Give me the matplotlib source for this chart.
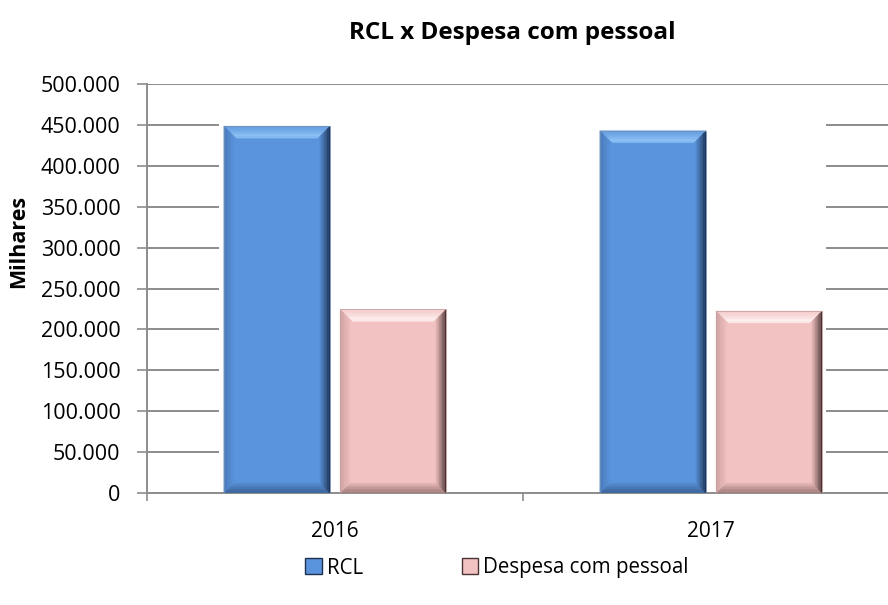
import matplotlib
matplotlib.use("Agg")
import matplotlib.pyplot as plt
import numpy as np
from matplotlib.patches import Polygon, Patch
from matplotlib.colors import to_rgb

categories = ["2016", "2017"]
series_names = ["RCL", "Despesa com pessoal"]
rcl = [448500, 442800]
despesa = [224500, 222500]
yticks = [0, 50000, 100000, 150000, 200000, 250000, 300000, 350000, 400000, 450000, 500000]
ytick_labels = ["0", "50.000", "100.000", "150.000", "200.000", "250.000",
                "300.000", "350.000", "400.000", "450.000", "500.000"]

FONT = ["Open Sans", "DejaVu Sans"]
plt.rcParams["font.family"] = FONT

W, H = 888, 605
fig = plt.figure(figsize=(W / 100, H / 100), dpi=100)
ax_left, ax_right, ax_bottom, ax_top = 147, 899, 493, 84
ax = fig.add_axes([ax_left / W, 1 - ax_bottom / H, (ax_right - ax_left) / W, (ax_bottom - ax_top) / H])

x = np.arange(len(categories))
bw = 0.282
gap = 0.027
off = (bw + gap) / 2

styles = [
    dict(main="#5A94DC", top="#8FC3F6", bottom="#3E679C", left="#4A7CBC", right="#1E3150", edge="#6F90B8"),
    dict(main="#F2C1C1", top="#FFF0F0", bottom="#A68080", left="#CFA3A3", right="#4A3535", edge="#C9A2A2"),
]

ax.set_xlim(-0.5, 1.5)
ax.set_ylim(0, 500000)

bars_rcl = ax.bar(x - off, rcl, bw, color=styles[0]["main"], zorder=3, linewidth=0)
bars_desp = ax.bar(x + off, despesa, bw, color=styles[1]["main"], zorder=3, linewidth=0)

dx = 12 / 376
dy = 12 * 500000 / 409


def mix(c1, c2, t):
    a = np.array(to_rgb(c1)); b = np.array(to_rgb(c2))
    return tuple(a * (1 - t) + b * t)


def bevel(bar, st):
    x0 = bar.get_x(); x1 = x0 + bar.get_width()
    y0 = bar.get_y(); y1 = y0 + bar.get_height()
    n = 8
    for i in range(n):
        a = i / n; b = (i + 1) / n
        t = i / (n - 1)
        ctop = mix(st["main"], st["top"], min(1.0, 0.3 + 0.9 * t ** 1.5))
        if i == n - 1:
            ctop = mix(st["top"], st["main"], 0.2)
        sides = {
            "top": ([(x0 + a * dx, y1 - a * dy), (x1 - a * dx, y1 - a * dy), (x1 - b * dx, y1 - b * dy), (x0 + b * dx, y1 - b * dy)], ctop),
            "bottom": ([(x0 + a * dx, y0 + a * dy), (x1 - a * dx, y0 + a * dy), (x1 - b * dx, y0 + b * dy), (x0 + b * dx, y0 + b * dy)], mix(st["bottom"], st["main"], t ** 1.2)),
            "left": ([(x0 + a * dx, y0 + a * dy), (x0 + a * dx, y1 - a * dy), (x0 + b * dx, y1 - b * dy), (x0 + b * dx, y0 + b * dy)], mix(st["left"], st["main"], t)),
            "right": ([(x1 - a * dx, y0 + a * dy), (x1 - a * dx, y1 - a * dy), (x1 - b * dx, y1 - b * dy), (x1 - b * dx, y0 + b * dy)], mix(st["right"], st["main"], t ** 0.8)),
        }
        for k, (pts, c) in sides.items():
            ax.add_patch(Polygon(pts, closed=True, facecolor=c, edgecolor=c, linewidth=0.3, zorder=4))
    ax.add_patch(Polygon([(x0, y0), (x0, y1), (x1, y1), (x1, y0)], closed=True, fill=False,
                         edgecolor=st["edge"], linewidth=0.6, zorder=5))


for b in bars_rcl:
    bevel(b, styles[0])
for b in bars_desp:
    bevel(b, styles[1])

# gridlines only outside bar groups (as in the reference), full line at top
grid_c = "#8C8C8C"
left_end = bars_rcl[0].get_x() - 5 / 376
right_start = bars_desp[-1].get_x() + bars_desp[-1].get_width() + 4 / 376
for yv in yticks[1:-1]:
    ax.plot([-0.5, left_end], [yv, yv], color=grid_c, lw=1.4, zorder=1, solid_capstyle="butt")
    ax.plot([right_start, 1.5], [yv, yv], color=grid_c, lw=1.4, zorder=1, solid_capstyle="butt")
ax.axhline(yticks[-1], color=grid_c, lw=1.4, zorder=1)

for s in ["top", "right"]:
    ax.spines[s].set_visible(False)
for s in ["left", "bottom"]:
    ax.spines[s].set_color(grid_c)
    ax.spines[s].set_linewidth(1.4)

ax.set_yticks(yticks)
ax.set_yticklabels(ytick_labels, fontsize=15.5, color="#000000")
ax.tick_params(axis="y", direction="out", length=7, width=1.2, color=grid_c, pad=12)

ax.set_xticks(x)
ax.set_xticklabels(categories, fontsize=15, color="#000000")
ax.tick_params(axis="x", which="major", length=0, pad=20)
ax.set_xticks([-0.5, 0.5, 1.5], minor=True)
ax.tick_params(axis="x", which="minor", direction="out", length=6, width=1.2, color=grid_c)

ax.set_ylabel("Milhares", fontsize=15.5, fontweight="bold")
ax.yaxis.set_label_coords((29 - ax_left) / (ax_right - ax_left), (493 - 241) / (ax_bottom - ax_top))

fig.text(512 / W, 1 - 33 / H, "RCL x Despesa com pessoal", ha="center", va="center",
         fontsize=17.5, fontweight="bold")

handles = [Patch(facecolor=styles[0]["main"], edgecolor=styles[0]["right"], linewidth=1.0),
           Patch(facecolor=styles[1]["main"], edgecolor=styles[1]["right"], linewidth=1.0)]
fig.legend(handles, series_names, loc="center", bbox_to_anchor=(497 / W, 1 - 568 / H), ncol=2,
           frameon=False, fontsize=14.8, handlelength=0.8, handleheight=0.8, handletextpad=0.25,
           columnspacing=4.8)

fig.savefig("out.png", dpi=100, facecolor="white")
